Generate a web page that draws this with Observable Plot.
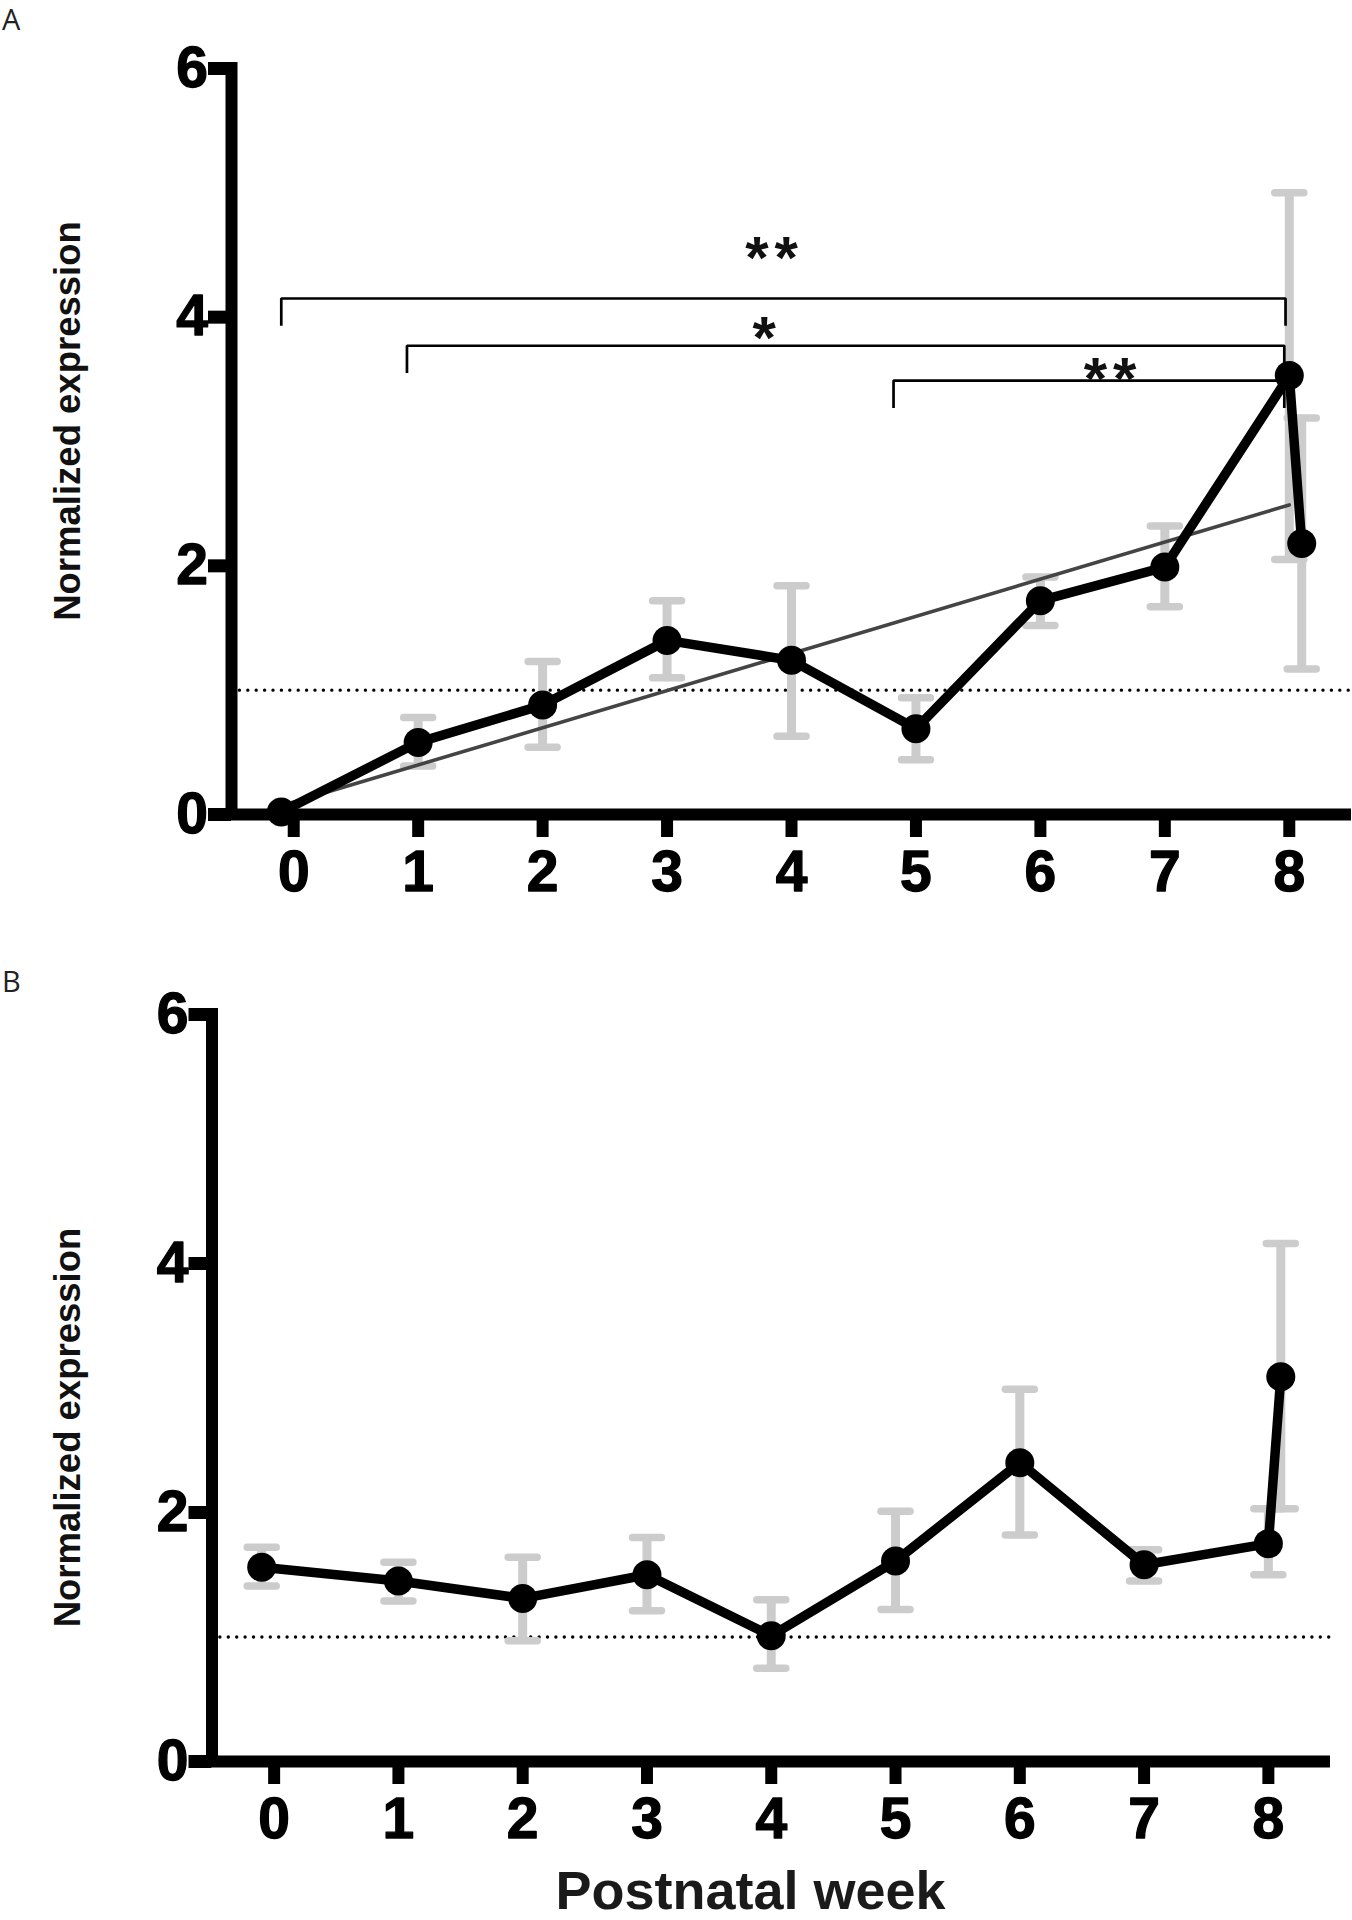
<!DOCTYPE html>
<html>
<head>
<meta charset="utf-8">
<script src="https://cdn.jsdelivr.net/npm/d3@7"></script>
<script src="https://cdn.jsdelivr.net/npm/@observablehq/plot@0.6"></script>
<style>
  html, body { margin: 0; padding: 0; background: #fff; overflow: hidden; }
  #chart svg { display: block; overflow: hidden; }
</style>
</head>
<body>
<div id="chart"></div>
<script>
// ---------------- data ----------------
const weeks = [-0.1, 1, 2, 3, 4, 5, 6, 7, 8, 8.1];
const xTicks = [0, 1, 2, 3, 4, 5, 6, 7, 8];
const yTicks = [0, 2, 4, 6];

// Panel A
const meanA = [0.02, 0.58, 0.88, 1.40, 1.24, 0.69, 1.72, 1.99, 3.53, 2.18];
const hiA   = [null, 0.78, 1.23, 1.72, 1.84, 0.94, 1.91, 2.32, 5.00, 3.19];
const loA   = [null, 0.39, 0.54, 1.10, 0.63, 0.44, 1.52, 1.67, 2.05, 1.17];
const fitX  = [-0.1, 8.0];
const fitY  = [0.07, 2.49];
const bracketX1 = [-0.1, 0.91, 4.82];
const bracketX2 = [7.97, 7.96, 7.96];
const bracketY  = [4.15, 3.77, 3.49];
const bracketDrop = 0.22;
const sigText = ["**", "*", "**"];
const sigX = [3.84, 3.78, 6.56];
const sigY = [4.58, 3.94, 3.61];

// Panel B
const meanB = [1.56, 1.45, 1.31, 1.50, 1.01, 1.61, 2.40, 1.58, 1.75, 3.09];
const hiB   = [1.72, 1.60, 1.64, 1.80, 1.30, 2.01, 2.99, 1.70, 2.03, 4.16];
const loB   = [1.41, 1.29, 0.97, 1.21, 0.75, 1.22, 1.82, 1.45, 1.50, 2.03];

const refLevel = 1;
const xDomain = [-0.5, 8.5];
const yDomain = [0, 6];
const yLabel = "Normalized expression";
const xLabel = "Postnatal week";

// ---------------- drawing ----------------
const FONT = "'Liberation Sans', Arial, Helvetica, sans-serif";
const capSymbol = {
  draw(ctx, size) {
    const r = Math.sqrt(size / Math.PI);
    ctx.moveTo(-r, 0);
    ctx.lineTo(r, 0);
  }
};
const intFormat = d3.format("d");

function panel(cfg) {
  const rows = weeks.map((x, i) => ({x, y: cfg.mean[i], hi: cfg.hi[i], lo: cfg.lo[i]}));
  const bars = rows.filter(d => d.hi != null);
  const frameMidY = (cfg.marginTop + cfg.height - cfg.marginBottom) / 2;
  const frameMidX = (cfg.marginLeft + cfg.width - cfg.marginRight) / 2;
  const marks = [
    Plot.ruleY([refLevel], {x1: xDomain[0], x2: xDomain[1], stroke: "#000", strokeWidth: 3.4,
      strokeDasharray: "0,8.4", strokeLinecap: "round"}),
    Plot.ruleX(bars, {x: "x", y1: "lo", y2: "hi", stroke: "#cccccc", strokeWidth: 9}),
    Plot.dot(bars, {x: "x", y: "hi", symbol: capSymbol, r: 14.5, fill: "none", stroke: "#cccccc",
      strokeWidth: 7.5, strokeLinecap: "round"}),
    Plot.dot(bars, {x: "x", y: "lo", symbol: capSymbol, r: 14.5, fill: "none", stroke: "#cccccc",
      strokeWidth: 7.5, strokeLinecap: "round"})
  ];
  if (cfg.fit) {
    const fit = fitX.map((x, i) => ({x, y: fitY[i]}));
    marks.push(Plot.line(fit, {x: "x", y: "y", stroke: "#444", strokeWidth: 3.6}));
  }
  marks.push(
    Plot.line(rows, {x: "x", y: "y", stroke: "#000", strokeWidth: 9.5, strokeLinejoin: "round"}),
    Plot.dot(rows, {x: "x", y: "y", r: 14.5, fill: "#000", stroke: "none"})
  );
  if (cfg.brackets) {
    const path = [];
    bracketY.forEach((y, i) => {
      path.push({z: i, x: bracketX1[i], y: y - bracketDrop});
      path.push({z: i, x: bracketX1[i], y});
      path.push({z: i, x: bracketX2[i], y});
      path.push({z: i, x: bracketX2[i], y: y - bracketDrop});
    });
    marks.push(Plot.line(path, {x: "x", y: "y", z: "z", stroke: "#000", strokeWidth: 2.7,
      strokeLinejoin: "miter", strokeLinecap: "butt", curve: "linear"}));
    const sig = sigText.map((t, i) => ({t, x: sigX[i], y: sigY[i]}));
    marks.push(Plot.text(sig, {x: "x", y: "y", text: "t", fontSize: 60, fontWeight: "bold",
      fill: "#111", dy: 14, dx: 3, fontFamily: FONT}));
  }
  // axes
  marks.push(
    Plot.ruleY([0], {x1: xDomain[0], x2: xDomain[1], stroke: "#000", strokeWidth: 12}),
    Plot.ruleX([xDomain[0]], {y1: yDomain[0], y2: yDomain[1], stroke: "#000", strokeWidth: 12,
      strokeLinecap: "square"}),
    Plot.axisY(yTicks, {anchor: "left", tickSize: 23, tickPadding: 0.5, strokeWidth: 13,
      fontSize: 57, fontWeight: "bold", label: null, fill: "#000", stroke: "#000",
      tickFormat: intFormat}),
    Plot.axisX(xTicks, {anchor: "bottom", tickSize: 23, tickPadding: 13, strokeWidth: 12,
      fontSize: 57, fontWeight: "bold", label: null, fill: "#000", stroke: "#000",
      tickFormat: intFormat}),
    Plot.text([yLabel], {text: d => d, frameAnchor: "left", rotate: -90, textAnchor: "middle",
      dx: 68.3 - cfg.marginLeft, dy: cfg.yLabelCenter - frameMidY,
      fontSize: 36.5, fontWeight: "bold", fill: "#111", fontFamily: FONT}),
    Plot.text([cfg.letter], {text: d => d, frameAnchor: "top-left", lineAnchor: "top",
      textAnchor: "start", dx: 1.5 - cfg.marginLeft, dy: cfg.letterTop - cfg.marginTop,
      fontSize: 29, fontWeight: "normal", fill: "#222", fontFamily: "'Open Sans', sans-serif"})
  );
  if (cfg.xTitle) {
    marks.push(Plot.text([xLabel], {text: d => d, frameAnchor: "bottom", lineAnchor: "bottom",
      textAnchor: "middle",
      dx: 750 - frameMidX, dy: cfg.xTitleBaseline - (cfg.height - cfg.marginBottom),
      fontSize: 54, fontWeight: "bold", fill: "#1a1a1a", fontFamily: FONT}));
  }
  const svg = Plot.plot({
    width: cfg.width,
    height: cfg.height,
    marginTop: cfg.marginTop,
    marginBottom: cfg.marginBottom,
    marginLeft: cfg.marginLeft,
    marginRight: cfg.marginRight,
    style: {fontFamily: FONT, background: "#fff", color: "#000", overflow: "hidden"},
    x: {domain: xDomain, axis: null},
    y: {domain: yDomain, axis: null},
    marks
  });
  const s = d3.select(svg);
  // asterisks in the reference are set a little apart
  s.selectAll("text")
    .filter(function () { return /^\*+$/.test(this.textContent); })
    .attr("letter-spacing", "6px");
  // heavier tick numerals, as in the reference
  s.selectAll('g[aria-label$="tick label"]')
    .attr("stroke", "#000").attr("stroke-width", 1.3).attr("stroke-linejoin", "round");
  return svg;
}

const chart = document.getElementById("chart");
chart.append(panel({
  width: 1352, height: 940, marginTop: 68, marginBottom: 126, marginLeft: 231, marginRight: 1,
  mean: meanA, hi: hiA, lo: loA, fit: true, brackets: true,
  letter: "A", letterTop: 9, yLabelCenter: 420.5
}));
chart.append(panel({
  width: 1352, height: 980, marginTop: 74, marginBottom: 159, marginLeft: 211.5, marginRight: 22,
  mean: meanB, hi: hiB, lo: loB, fit: false, brackets: false,
  letter: "B", letterTop: 31, yLabelCenter: 487, xTitle: true, xTitleBaseline: 968
}));
</script>
</body>
</html>
